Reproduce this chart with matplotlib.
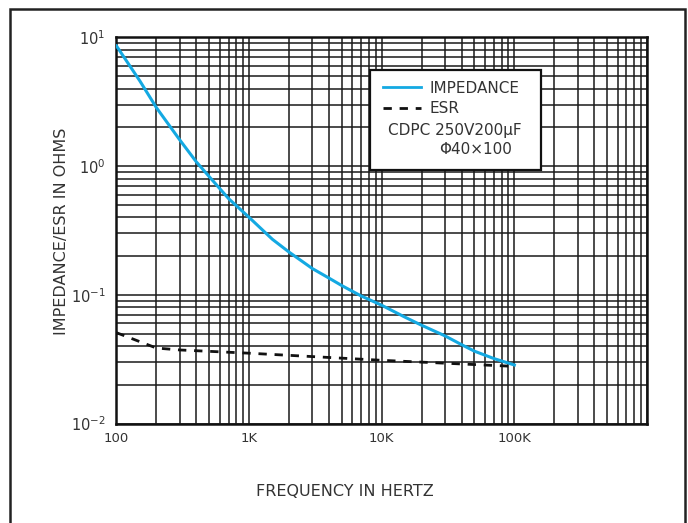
import numpy as np
import matplotlib
matplotlib.use('Agg')
import matplotlib.pyplot as plt
from matplotlib.ticker import LogLocator, FixedLocator, FixedFormatter, NullFormatter
from matplotlib.patches import Rectangle
from matplotlib.lines import Line2D

# impedance curve (Hz, ohms)
imp_freq = [100, 150, 200, 300, 400, 500, 700, 1000, 1500, 2000, 3000, 4000, 5000,
            7000, 10000, 15000, 20000, 30000, 40000, 50000, 70000, 100000]
imp_ohms = [8.6, 4.6, 2.85, 1.6, 1.08, 0.83, 0.56, 0.40, 0.27, 0.215, 0.16, 0.135,
            0.118, 0.098, 0.083, 0.067, 0.058, 0.048, 0.041, 0.0365, 0.032, 0.0285]

# ESR curve
esr_freq = [100, 200, 300, 1000, 10000, 100000]
esr_ohms = [0.0508, 0.0386, 0.0373, 0.0352, 0.0310, 0.0278]

xtick_vals = [100, 1000, 10000, 100000]
xtick_labels = ['100', '1K', '10K', '100K']
ytick_vals = [0.01, 0.1, 1, 10]
ytick_labels = [r'$10^{-2}$', r'$10^{-1}$', r'$10^{0}$', r'$10^{1}$']

text_col = '#333333'
blue = '#14A9E2'

fig = plt.figure(figsize=(6.88, 5.23), dpi=100)
ax = fig.add_axes([0.1693, 0.1902, 0.7711, 0.7381])

ax.plot(imp_freq, imp_ohms, color=blue, lw=2.2, zorder=4, label='IMPEDANCE')
ax.plot(esr_freq, esr_ohms, color='#111111', lw=2.0, dashes=(3, 2.8), zorder=4, label='ESR')

ax.set_xscale('log')
ax.set_yscale('log')
ax.set_xlim(100, 1e6)
ax.set_ylim(0.01, 10)

ax.xaxis.set_major_locator(FixedLocator(xtick_vals))
ax.xaxis.set_major_formatter(FixedFormatter(xtick_labels))
ax.yaxis.set_major_locator(FixedLocator(ytick_vals))
ax.yaxis.set_major_formatter(FixedFormatter(ytick_labels))
ax.xaxis.set_minor_locator(LogLocator(base=10, subs=np.arange(2, 10), numticks=50))
ax.yaxis.set_minor_locator(LogLocator(base=10, subs=np.arange(2, 10), numticks=50))
ax.xaxis.set_minor_formatter(NullFormatter())
ax.yaxis.set_minor_formatter(NullFormatter())

ax.tick_params(which='both', length=0, labelcolor=text_col)
ax.tick_params(axis='x', pad=6, labelsize=9.5)
ax.tick_params(axis='y', pad=8, labelsize=10.5)

ax.grid(True, which='major', color='#1a1a1a', lw=1.1)
ax.grid(True, which='minor', color='#1a1a1a', lw=1.1)
# 1M gridline is not part of major ticks, add it anyway
ax.axvline(1e6, color='#1a1a1a', lw=1.1)
for s in ax.spines.values():
    s.set_linewidth(1.8)
    s.set_color('#111111')

# legend box
box = Rectangle((0.477, 0.657), 0.324, 0.26, transform=ax.transAxes,
                facecolor='white', edgecolor='#111111', lw=1.6, zorder=5)
ax.add_patch(box)
handles = [Line2D([], [], color=blue, lw=2.0),
           Line2D([], [], color='#111111', lw=2.0, dashes=(3, 2.8))]
leg = ax.legend(handles, ['IMPEDANCE', 'ESR'], loc='upper left',
                bbox_to_anchor=(0.502, 0.888), frameon=False, fontsize=11,
                borderpad=0, borderaxespad=0, handlelength=2.5,
                handletextpad=0.55, labelspacing=0.35)
leg.set_zorder(6)
for t in leg.get_texts():
    t.set_color(text_col)
ax.text(0.638, 0.758, 'CDPC 250V200µF', transform=ax.transAxes, ha='center',
        va='center', fontsize=11, color=text_col, zorder=7)
ax.text(0.676, 0.709, 'Φ40×100', transform=ax.transAxes, ha='center',
        va='center', fontsize=11, color=text_col, zorder=7)

fig.text(345 / 688, 1 - 492 / 523, 'FREQUENCY IN HERTZ', ha='center', va='center',
         fontsize=11.5, color=text_col)
fig.text(62 / 688, 1 - 231 / 523, 'IMPEDANCE/ESR IN OHMS', ha='center', va='center',
         rotation=90, fontsize=11.5, color=text_col)

# outer frame around the figure (bottom edge runs off the image)
frame = Rectangle((9.5 / 688, -0.05), 675 / 688, 1.05 - 9 / 523, transform=fig.transFigure,
                  fill=False, edgecolor='#222222', lw=1.8)
fig.patches.append(frame)

fig.savefig('out.png', dpi=100)
